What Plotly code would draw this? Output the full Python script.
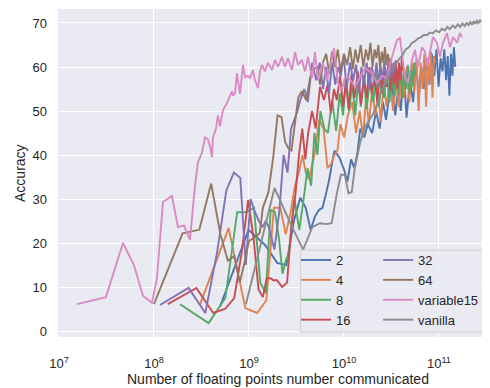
import plotly.graph_objects as go

# ---- data -------------------------------------------------------------
EPOCHS = [1, 2, 3, 4, 5, 6, 7, 8, 9, 10, 11, 12, 13, 14, 16, 18, 20, 22, 24, 26, 28, 30,
          33, 36, 40, 44, 48, 52, 56, 60, 65, 70, 75, 80, 86, 92, 100, 108, 116, 124,
          132, 140, 150, 160, 170, 180, 190, 200, 210, 220, 230, 240, 250, 260, 270,
          280, 290, 300]

# floating point numbers communicated per epoch for each setting
floats_per_epoch_2 = 4.95e8
floats_per_epoch_4 = 3.05e8
floats_per_epoch_8 = 1.88e8
floats_per_epoch_16 = 1.40e8
floats_per_epoch_32 = 1.157e8
floats_per_epoch_64 = 1.0e8
floats_per_epoch_vanilla = 9.29e8

acc_2 = [5.5, 23, 19.5, 15.5, 15, 25, 30.3, 28, 23, 26, 27.5, 28, 31, 34,
         41, 39.5, 37, 34, 39, 37, 40.5, 46,
         44, 47,
         45, 50, 46, 52, 48, 53,
         56, 49, 55, 50,
         59, 48.5, 57,
         52, 61, 53, 60, 55,
         62, 56, 63, 58, 64, 55.5, 62, 59, 64, 57, 62.5, 53.5, 63, 58, 64.5, 60]
acc_4 = [6, 23.4, 5.2, 4.1, 7, 28, 28, 22, 27, 33, 36, 40, 36, 34.5,
         40, 48, 46, 37, 38, 40, 41, 47,
         44, 49,
         52, 45, 50, 44, 53, 47,
         55, 49, 54, 47.5,
         57, 51, 56.5,
         50, 57, 51, 58, 53,
         60, 52, 61, 54, 62, 50, 61, 55, 63, 51, 62, 56, 63.5, 53, 62.5, 61]
acc_8 = [6.1, 1.8, 7.5, 27, 27, 28, 11, 8.6, 27.5, 27, 21, 13, 16, 18,
         30, 23, 30, 37, 33, 45, 40, 50,
         46, 45,
         52.5, 45.5, 54, 49, 57.5, 50,
         56, 49, 57, 51,
         58, 50.5, 57,
         52, 58.5, 51, 57, 53,
         59, 52, 58, 53.5, 59.5, 54, 60, 53, 59, 55, 60.5, 54, 60, 55.5, 61, 58]
acc_16 = [6.1, 9.8, 4.1, 5, 7.5, 18, 29.8, 21, 9.5, 7.7, 12, 12, 11.5, 11.6,
          10, 11, 24, 31, 40, 46, 39, 45,
          50, 46,
          55.5, 52.5, 56, 49.5, 55, 52.5,
          58, 51, 57, 50.5,
          58.5, 53, 59,
          51.5, 57.5, 53, 60, 54,
          58, 52, 59.5, 54, 60, 55.5, 61, 54.5, 60, 56, 61.5, 55, 61, 57, 62, 59]
acc_32 = [5.9, 9.8, 4.1, 18, 32, 36, 34.8, 15, 30, 27, 25, 23.6, 25, 23.6,
          18.5, 27, 40, 36, 46, 48, 50, 52.5,
          55, 52,
          61, 57, 61, 55, 60, 54,
          61, 56, 60, 58,
          62.5, 55, 61,
          57, 60.5, 54, 60, 56,
          61, 55, 60, 56.5, 61, 55.5, 60, 57, 61.5, 56, 60, 57, 62, 58, 61, 59]
acc_64 = [6.1, 22.2, 23, 33.5, 22, 16, 17, 11, 15.7, 20.5, 21, 21.5, 22.3, 28,
          31.5, 39.5, 49, 48.6, 43, 41.5, 41, 46,
          53, 54.5,
          52.5, 57.5, 59.5, 60, 56, 61,
          63, 58.5, 63.5, 60,
          64, 59, 63,
          60.5, 64.5, 59.5, 64, 61,
          65, 60, 64, 61.5, 65.5, 60, 64, 62, 65, 59.5, 63.5, 61, 64.5, 60.5, 63, 61]
acc_vanilla = [6.1, 32.5, 24, 18.5, 23.6, 24.5, 24.3, 24.5, 31, 35.5, 35.5, 31.3, 31.6, 37,
               43, 46.5, 48, 49.5, 51.5, 54, 55.5, 57,
               59, 60,
               61.5, 62.5, 64, 64.5, 65.5, 65.8,
               66.5, 66.8, 67.3, 67.2,
               67.8, 67.6, 68.3,
               67.9, 68.7, 68.3, 69.1, 68.6,
               69.4, 68.9, 69.7, 69.1, 69.9, 69.3, 70, 69.5, 70.2, 69.6, 70.4, 69.8,
               70.5, 70, 70.6, 70.2]

# variable15: cumulative floats communicated (in units of 1e7) and accuracy
floats_variable15_1e7 = [1.547, 3.124, 4.718, 6.158, 7.658, 9.526, 10.75, 12.44, 15.47, 17.89,
                         20.7, 22.26, 23.93, 27.02, 29.06, 32.01, 34.42, 37.02, 38.86, 40.79,
                         41.80, 44.95, 47.18, 49.52, 53.24, 58.66, 63.10, 66.23, 67.85, 71.23,
                         74.77, 80.39, 86.47, 90.78, 97.61, 102.4, 110.2, 115.7, 124.4, 130.6,
                         137.1, 147.4, 158.5, 174.7, 187.8, 202.0, 222.6, 239.3, 257.4, 283.6,
                         305.0, 328.1, 361.4, 388.6, 418.0, 460.6, 495.2, 532.5, 601.0, 662.3,
                         747.7, 784.8, 864.7, 952.6, 1024, 1129, 1306, 1474, 1664, 1971,
                         2226, 2512, 2836, 3201, 3614, 3886, 4180, 4386, 4718, 5197,
                         5590, 6010, 6623, 7123, 7477, 8039, 8647, 9526, 10245, 11020,
                         12143, 13058, 14043, 15470, 16641, 17468]
acc_variable15 = [6.1, 7.7, 20, 15, 8, 6.4, 12, 29.3, 30.7, 23.6,
                  24, 22.5, 20.7, 33, 38.4, 40.5, 44, 43.5, 42, 39.5,
                  44, 46, 49, 46.5, 50.2, 51.8, 53.2, 54.5, 53.5, 54,
                  58.6, 53.9, 60.5, 57.7, 58, 57.5, 59.3, 57, 55.2, 59,
                  60.5, 59, 61, 59.3, 61.6, 60, 62.3, 60, 62, 59.3,
                  63.4, 60.5, 61.6, 59, 62.3, 57.5, 63.4, 57, 61, 57,
                  62, 64.3, 56.4, 54.8, 57.7, 57.5, 55.5, 57.7, 59.8, 58.6,
                  56.4, 58, 57.5, 62.3, 66.1, 66.6, 61, 57.7, 56.4, 61.6,
                  63.9, 60, 64.5, 63.5, 60, 63.2, 66.8, 65.5, 62.3, 65.5,
                  67.7, 64.5, 66.8, 65.5, 67.7, 66.8]

X_TICKS = [1e7, 1e8, 1e9, 1e10, 1e11]
X_TICK_TEXT = ["10<sup>7</sup>", "10<sup>8</sup>", "10<sup>9</sup>",
               "10<sup>10</sup>", "10<sup>11</sup>"]
Y_TICKS = [0, 10, 20, 30, 40, 50, 60, 70]

for a in (acc_2, acc_4, acc_8, acc_16, acc_32, acc_64, acc_vanilla):
    assert len(a) == len(EPOCHS), len(a)
assert len(floats_variable15_1e7) == len(acc_variable15)

# ---- figure -------------------------------------------------------------
COLORS = {"2": "#4C72B0", "4": "#DD8452", "8": "#55A868", "16": "#C44E52",
          "32": "#8172B3", "64": "#937860", "variable15": "#DA8BC3", "vanilla": "#8C8C8C"}

series = [
    ("2", [e * floats_per_epoch_2 for e in EPOCHS], acc_2, "legend"),
    ("4", [e * floats_per_epoch_4 for e in EPOCHS], acc_4, "legend"),
    ("8", [e * floats_per_epoch_8 for e in EPOCHS], acc_8, "legend"),
    ("16", [e * floats_per_epoch_16 for e in EPOCHS], acc_16, "legend"),
    ("32", [e * floats_per_epoch_32 for e in EPOCHS], acc_32, "legend2"),
    ("64", [e * floats_per_epoch_64 for e in EPOCHS], acc_64, "legend2"),
    ("variable15", [v * 1e7 for v in floats_variable15_1e7], acc_variable15, "legend2"),
    ("vanilla", [e * floats_per_epoch_vanilla for e in EPOCHS], acc_vanilla, "legend2"),
]

fig = go.Figure()
for name, xs, ys, lg in series:
    fig.add_trace(go.Scatter(x=xs, y=ys, mode="lines", name=name, legend=lg,
                             line=dict(color=COLORS[name], width=1.9)))

font_family = "Arial, 'Liberation Sans', sans-serif"
# the page body adds an 8px offset, so the figure is 8px smaller than the window
fig.update_layout(
    width=482, height=380,
    margin=dict(l=50, r=0, t=1, b=51, autoexpand=False),
    paper_bgcolor="white", plot_bgcolor="#EAEAF2",
    font=dict(family=font_family, size=13, color="#262626"),
    xaxis=dict(type="log", range=[6.99, 11.537], tickvals=X_TICKS, ticktext=X_TICK_TEXT,
               showgrid=True, gridcolor="white", gridwidth=1.3, zeroline=False,
               showline=False, ticks="", ticklabelstandoff=17, automargin=False,
               tickfont=dict(size=13)),
    yaxis=dict(range=[-1.36, 73.18], tickvals=Y_TICKS, showgrid=True, gridcolor="white",
               gridwidth=1.3, zeroline=False, showline=False, ticks="",
               ticklabelstandoff=10, automargin=False, tickfont=dict(size=13)),
    showlegend=True,
    legend=dict(x=0.551, y=0.2805, xanchor="left", yanchor="top",
                bgcolor="rgba(0,0,0,0)", font=dict(size=13)),
    legend2=dict(x=0.741, y=0.2805, xanchor="left", yanchor="top",
                 bgcolor="rgba(0,0,0,0)", font=dict(size=13)),
    shapes=[dict(type="rect", xref="paper", yref="paper", x0=0.5615, x1=0.997,
                 y0=0.0152, y1=0.265, layer="above",
                 fillcolor="rgba(234,234,242,0.85)",
                 line=dict(color="rgba(204,204,204,0.9)", width=1))],
    annotations=[
        dict(text="Number of floating points number communicated",
             xref="paper", yref="paper", x=0.51, y=-0.128,
             xanchor="center", yanchor="middle", showarrow=False,
             font=dict(size=14)),
        dict(text="Accuracy", xref="paper", yref="paper", x=-0.088, y=0.5,
             xanchor="center", yanchor="middle", textangle=-90, showarrow=False,
             font=dict(size=14)),
    ],
)

fig.write_html("out.html")
